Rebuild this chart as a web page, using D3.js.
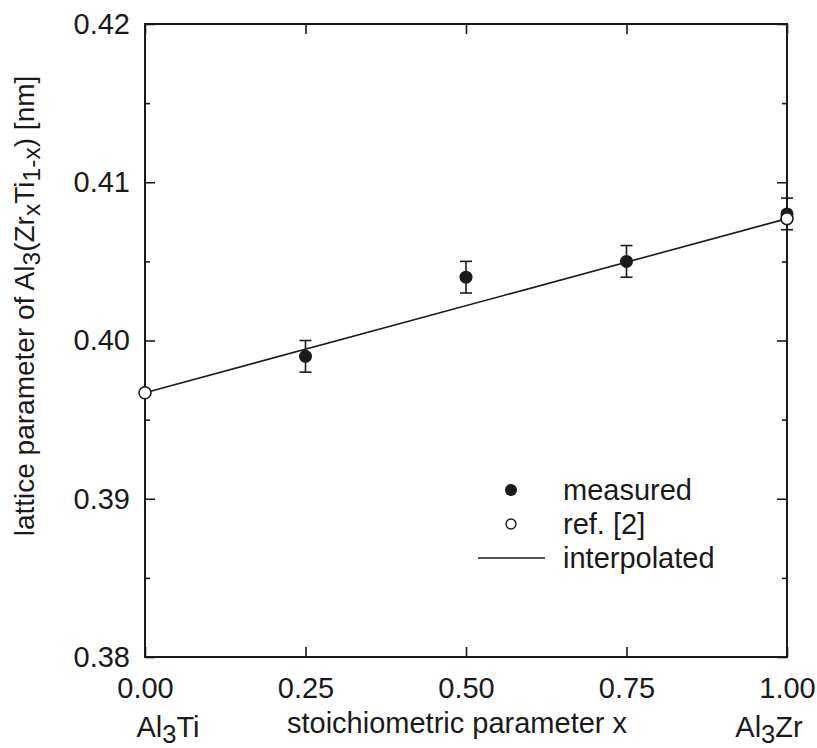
<!DOCTYPE html>
<html>
<head>
<meta charset="utf-8">
<script src="https://cdn.jsdelivr.net/npm/d3@7"></script>
<style>
  body { margin: 0; background: #fff; }
  text { font-family: "Liberation Sans", Arial, sans-serif; fill: #1a1a1a; }
</style>
</head>
<body>
<div id="chart"></div>
<script>
// measured lattice parameters with error bars
const measuredX = [0.25, 0.50, 0.75, 1.00];
const measuredY = [0.399, 0.404, 0.405, 0.408];
const measuredErr = [0.001, 0.001, 0.001, 0.001];
// reference values [2] for Al3Ti and Al3Zr
const refX = [0.00, 1.00];
const refY = [0.3967, 0.4077];
const xTicks = [0.00, 0.25, 0.50, 0.75, 1.00];
const yTicks = [0.38, 0.39, 0.40, 0.41, 0.42];
const yMinorTicks = [0.385, 0.395, 0.405, 0.415];

const width = 817, height = 748;
const margin = {left: 145, right: 30, top: 24, bottom: 91};
const ink = "#1a1a1a";
const fs = 29;

const svg = d3.select("#chart").append("svg")
  .attr("width", width).attr("height", height);

const x = d3.scaleLinear().domain([0, 1]).range([margin.left, width - margin.right]);
const y = d3.scaleLinear().domain([0.38, 0.42]).range([height - margin.bottom, margin.top]);

// inward ticks on all four sides
const fmt = d3.format(".2f");
svg.append("g").attr("transform", `translate(0,${y(0.38)})`)
  .call(d3.axisBottom(x).tickValues(xTicks).tickSizeInner(-10).tickSizeOuter(0).tickPadding(20).tickFormat(fmt));
svg.append("g").attr("transform", `translate(0,${y(0.42)})`)
  .call(d3.axisTop(x).tickValues(xTicks).tickSizeInner(-10).tickSizeOuter(0).tickFormat(""));
svg.append("g").attr("transform", `translate(${x(0)},0)`)
  .call(d3.axisLeft(y).tickValues(yTicks).tickSizeInner(-10).tickSizeOuter(0).tickPadding(15).tickFormat(fmt));
svg.append("g").attr("transform", `translate(${x(1)},0)`)
  .call(d3.axisRight(y).tickValues(yTicks).tickSizeInner(-10).tickSizeOuter(0).tickFormat(""));
svg.append("g").attr("transform", `translate(${x(0)},0)`)
  .call(d3.axisLeft(y).tickValues(yMinorTicks).tickSizeInner(-5).tickSizeOuter(0).tickFormat(""));
svg.append("g").attr("transform", `translate(${x(1)},0)`)
  .call(d3.axisRight(y).tickValues(yMinorTicks).tickSizeInner(-5).tickSizeOuter(0).tickFormat(""));

svg.selectAll(".domain").remove();
svg.selectAll(".tick line").attr("stroke", ink).attr("stroke-width", 1.6);
svg.selectAll(".tick text").attr("font-size", fs).attr("fill", ink);

svg.append("rect")
  .attr("x", x(0)).attr("y", y(0.42))
  .attr("width", x(1) - x(0)).attr("height", y(0.38) - y(0.42))
  .attr("fill", "none").attr("stroke", ink).attr("stroke-width", 2);

// interpolated line between reference end members
svg.append("path")
  .datum(refX.map((d, i) => [d, refY[i]]))
  .attr("d", d3.line().x(d => x(d[0])).y(d => y(d[1])))
  .attr("fill", "none").attr("stroke", ink).attr("stroke-width", 1.6);

// error bars
const eb = svg.append("g").attr("stroke", ink).attr("stroke-width", 1.6);
measuredX.forEach((mx, i) => {
  const cx = x(mx), y0 = y(measuredY[i] - measuredErr[i]), y1 = y(measuredY[i] + measuredErr[i]);
  eb.append("line").attr("x1", cx).attr("x2", cx).attr("y1", y0).attr("y2", y1);
  eb.append("line").attr("x1", cx - 6).attr("x2", cx + 6).attr("y1", y0).attr("y2", y0);
  eb.append("line").attr("x1", cx - 6).attr("x2", cx + 6).attr("y1", y1).attr("y2", y1);
});

svg.selectAll(".measured").data(measuredX).enter().append("circle")
  .attr("cx", d => x(d)).attr("cy", (d, i) => y(measuredY[i]))
  .attr("r", 6.5).attr("fill", ink);

svg.selectAll(".ref").data(refX).enter().append("circle")
  .attr("cx", d => x(d)).attr("cy", (d, i) => y(refY[i]))
  .attr("r", 6).attr("fill", "#fff").attr("stroke", ink).attr("stroke-width", 1.6);

// legend
const lg = svg.append("g");
lg.append("circle").attr("cx", 511).attr("cy", 490).attr("r", 6).attr("fill", ink);
lg.append("circle").attr("cx", 511).attr("cy", 524).attr("r", 5).attr("fill", "#fff").attr("stroke", ink).attr("stroke-width", 1.4);
lg.append("line").attr("x1", 478).attr("x2", 545).attr("y1", 558).attr("y2", 558).attr("stroke", ink).attr("stroke-width", 1.4);
["measured", "ref. [2]", "interpolated"].forEach((t, i) => {
  lg.append("text").attr("x", 563).attr("y", 500 + i * 34).attr("font-size", fs).text(t);
});

// axis titles
svg.append("text").attr("x", 457).attr("y", 733).attr("text-anchor", "middle")
  .attr("font-size", fs).text("stoichiometric parameter x");

const sub = (sel, parts) => parts.forEach(p => {
  const ts = sel.append("tspan").text(p[0]);
  if (p[1]) ts.attr("baseline-shift", "-22%").attr("font-size", "88%");
});
sub(svg.append("text").attr("x", 168).attr("y", 737).attr("text-anchor", "middle").attr("font-size", fs),
  [["Al"], ["3", true], ["Ti"]]);
sub(svg.append("text").attr("x", 769).attr("y", 737).attr("text-anchor", "middle").attr("font-size", fs),
  [["Al"], ["3", true], ["Zr"]]);

const yl = svg.append("text")
  .attr("transform", "translate(34,306) rotate(-90)")
  .attr("text-anchor", "middle").attr("font-size", 28);
sub(yl, [["lattice parameter of Al"], ["3", true], ["(Zr"], ["x", true], ["Ti"], ["1-x", true], [") [nm]"]]);
</script>
</body>
</html>
